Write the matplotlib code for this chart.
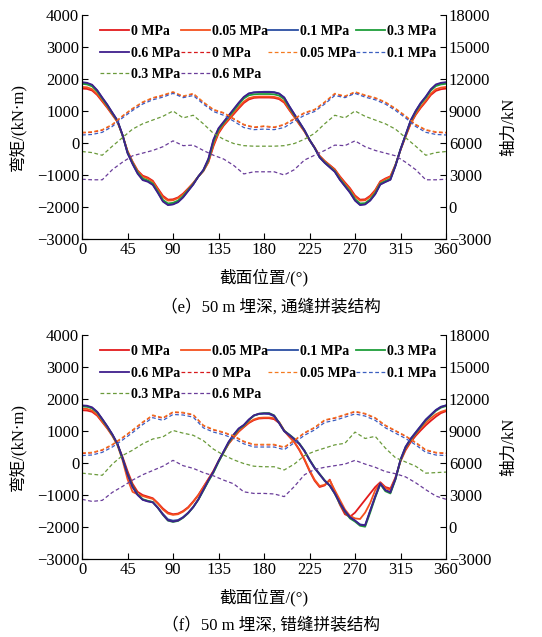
import numpy as np
import matplotlib
matplotlib.use('Agg')
import matplotlib.pyplot as plt

plt.rcParams['font.family'] = ['Liberation Serif', 'Noto Sans CJK SC']
plt.rcParams['axes.unicode_minus'] = True

# section angle, deg (moments every 5 deg, axial forces every 10 deg)
theta_m = np.arange(0, 361, 5)
theta_n = np.arange(0, 361, 10)

labels = ['0 MPa', '0.05 MPa', '0.1 MPa', '0.3 MPa', '0.6 MPa']

# ---- (e) moments, kN*m
e_m_0 = [1700, 1690, 1640, 1500, 1300, 1100, 880, 660, 250, -250, -580, -860, -1020, -1080, -1180, -1420, -1650, -1770, -1760, -1700, -1580, -1420, -1250, -1050, -880, -600, -100, 300, 540, 720, 900, 1080, 1250, 1360, 1410, 1420, 1420,
         1420, 1410, 1370, 1260, 1030, 810, 580, 360, 90, -140, -400, -560, -690, -820, -1040, -1230, -1410, -1640, -1770, -1760, -1650, -1470, -1200, -1110, -1040, -680, -220, 200, 600, 880, 1100, 1290, 1500, 1630, 1680, 1700]
e_m_005 = [1750, 1740, 1680, 1530, 1330, 1120, 900, 670, 250, -260, -600, -880, -1050, -1110, -1210, -1450, -1690, -1800, -1790, -1720, -1600, -1440, -1260, -1050, -870, -580, -50, 330, 570, 750, 940, 1120, 1290, 1400, 1440, 1450, 1450,
           1450, 1440, 1400, 1290, 1050, 830, 600, 370, 90, -140, -410, -570, -700, -840, -1060, -1260, -1440, -1670, -1800, -1790, -1680, -1490, -1220, -1130, -1060, -690, -210, 210, 620, 900, 1130, 1320, 1540, 1680, 1730, 1750]
e_m_01 = [1880, 1860, 1800, 1640, 1410, 1190, 940, 700, 250, -300, -640, -940, -1140, -1190, -1290, -1540, -1810, -1930, -1910, -1840, -1690, -1490, -1290, -1050, -850, -510, 80, 440, 640, 840, 1040, 1240, 1420, 1540, 1580, 1590, 1600,
          1600, 1590, 1545, 1420, 1150, 900, 650, 400, 100, -150, -450, -615, -755, -895, -1140, -1340, -1540, -1790, -1930, -1910, -1790, -1590, -1290, -1210, -1140, -710, -200, 250, 700, 1000, 1250, 1440, 1670, 1810, 1860, 1880]
e_m_03 = [1850, 1830, 1770, 1610, 1390, 1170, 930, 690, 250, -290, -630, -920, -1110, -1170, -1270, -1520, -1780, -1890, -1870, -1800, -1660, -1470, -1280, -1050, -860, -540, 40, 410, 620, 820, 1010, 1210, 1390, 1490, 1520, 1530, 1530,
          1530, 1520, 1480, 1370, 1110, 870, 630, 390, 100, -150, -440, -600, -740, -880, -1120, -1320, -1510, -1750, -1890, -1880, -1760, -1560, -1270, -1190, -1120, -700, -200, 240, 680, 970, 1220, 1410, 1640, 1780, 1830, 1850]
e_m_06 = [1900, 1880, 1820, 1650, 1420, 1200, 950, 710, 260, -320, -660, -960, -1160, -1210, -1310, -1560, -1830, -1940, -1920, -1850, -1700, -1500, -1300, -1050, -840, -490, 110, 460, 660, 860, 1060, 1260, 1440, 1550, 1580, 1590, 1590,
          1590, 1580, 1540, 1420, 1150, 900, 650, 400, 100, -150, -450, -620, -760, -900, -1150, -1350, -1550, -1800, -1940, -1920, -1800, -1600, -1300, -1220, -1150, -720, -200, 250, 700, 1000, 1250, 1450, 1680, 1830, 1880, 1900]

# ---- (e) axial forces, kN
e_n_0 = [6950, 7000, 7200, 7700, 8500, 9200, 9800, 10200, 10450, 10750, 10350, 10600, 9800, 9100, 8800, 8250, 7700, 7450, 7550,
         7450, 7700, 8250, 8800, 9100, 9800, 10600, 10350, 10750, 10450, 10200, 9800, 9200, 8500, 7700, 7200, 7000, 6950]
e_n_005 = [7000, 7050, 7250, 7750, 8550, 9250, 9850, 10250, 10500, 10800, 10400, 10650, 9850, 9150, 8850, 8300, 7750, 7500, 7600,
           7500, 7750, 8300, 8850, 9150, 9850, 10650, 10400, 10800, 10500, 10250, 9850, 9250, 8550, 7750, 7250, 7050, 7000]
e_n_01 = [6750, 6800, 7000, 7550, 8350, 9050, 9650, 10050, 10300, 10650, 10250, 10450, 9650, 8950, 8600, 8050, 7450, 7250, 7300,
          7250, 7450, 8050, 8600, 8950, 9650, 10450, 10250, 10650, 10300, 10050, 9650, 9050, 8350, 7550, 7000, 6800, 6750]
e_n_03 = [5200, 5100, 4850, 5700, 6500, 7300, 7800, 8150, 8500, 9000, 8350, 8600, 7800, 6900, 6350, 5950, 5750, 5700, 5700,
          5700, 5750, 5950, 6350, 6900, 7800, 8600, 8350, 9000, 8500, 8150, 7800, 7300, 6500, 5700, 4850, 5100, 5200]
e_n_06 = [2600, 2550, 2550, 3500, 4200, 4800, 5050, 5300, 5650, 6200, 5750, 5800, 5300, 4850, 4500, 3900, 3100, 3300, 3300,
          3300, 3000, 3500, 4400, 4850, 5300, 5800, 5750, 6200, 5650, 5300, 5050, 4800, 4200, 3500, 2550, 2550, 2600]

# ---- (f) moments, kN*m
f_m_0 = [1650, 1640, 1600, 1480, 1280, 1080, 850, 580, 200, -250, -650, -900, -1000, -1050, -1100, -1250, -1420, -1550, -1600, -1580, -1500, -1380, -1200, -1000, -750, -500, -250, 50, 330, 600, 800, 980, 1120, 1250, 1340, 1390, 1400,
         1400, 1370, 1250, 1000, 820, 650, 400, 100, -250, -550, -750, -700, -520, -900, -1300, -1600, -1680, -1550, -1350, -1150, -950, -750, -600, -750, -800, -450, 50, 400, 650, 850, 1020, 1180, 1320, 1450, 1560, 1620]
f_m_005 = [1700, 1690, 1640, 1510, 1300, 1100, 860, 560, 100, -500, -900, -980, -1030, -1080, -1120, -1270, -1450, -1580, -1620, -1600, -1520, -1400, -1220, -1010, -760, -510, -250, 60, 340, 610, 810, 990, 1140, 1270, 1360, 1410, 1420,
           1420, 1400, 1280, 1020, 840, 660, 420, 120, -220, -520, -720, -680, -540, -850, -1150, -1450, -1650, -1730, -1750, -1550, -1250, -850, -620, -780, -850, -480, 80, 450, 700, 900, 1080, 1250, 1400, 1520, 1600, 1650]
f_m_01 = [1780, 1770, 1720, 1590, 1370, 1140, 890, 600, 150, -340, -740, -990, -1140, -1190, -1220, -1390, -1590, -1760, -1800, -1780, -1690, -1550, -1370, -1140, -850, -550, -280, 50, 350, 650, 880, 1070, 1180, 1350, 1480, 1530, 1540,
          1530, 1460, 1240, 990, 870, 740, 590, 370, 90, -160, -360, -560, -710, -950, -1250, -1500, -1690, -1800, -1920, -1940, -1480, -1040, -640, -850, -910, -490, 110, 510, 760, 960, 1160, 1360, 1510, 1660, 1760, 1800]
f_m_03 = [1770, 1760, 1710, 1580, 1360, 1130, 880, 590, 150, -330, -720, -980, -1130, -1180, -1220, -1400, -1620, -1800, -1840, -1810, -1710, -1570, -1380, -1150, -860, -570, -300, 30, 330, 630, 860, 1060, 1170, 1340, 1480, 1540, 1560,
          1560, 1490, 1260, 1010, 890, 760, 610, 390, 110, -140, -340, -540, -700, -960, -1270, -1520, -1730, -1830, -1960, -1990, -1550, -1080, -660, -880, -950, -520, 80, 480, 730, 930, 1130, 1330, 1480, 1630, 1730, 1780]
f_m_06 = [1800, 1790, 1740, 1600, 1380, 1150, 900, 610, 160, -350, -750, -1000, -1150, -1200, -1230, -1400, -1610, -1790, -1830, -1800, -1700, -1560, -1380, -1140, -840, -540, -270, 60, 360, 660, 890, 1080, 1190, 1360, 1490, 1540, 1550,
          1550, 1480, 1250, 1000, 880, 750, 600, 380, 100, -150, -350, -550, -700, -950, -1250, -1500, -1700, -1800, -1930, -1950, -1500, -1050, -640, -850, -920, -500, 100, 500, 750, 950, 1150, 1350, 1500, 1650, 1750, 1800]

# ---- (f) axial forces, kN
f_n_0 = [6900, 6950, 7200, 7700, 8350, 9050, 9800, 10450, 10200, 10750, 10700, 10500, 9500, 9100, 8850, 8500, 8000, 7700, 7700,
         7700, 7450, 8100, 8800, 9300, 10000, 10200, 10500, 10800, 10600, 10200, 9500, 9000, 8500, 7900, 7200, 6950, 6900]
f_n_005 = [6950, 7000, 7250, 7750, 8400, 9100, 9850, 10500, 10250, 10800, 10750, 10550, 9550, 9150, 8900, 8550, 8050, 7750, 7750,
           7750, 7500, 8150, 8850, 9350, 10050, 10250, 10550, 10850, 10650, 10250, 9550, 9050, 8550, 7950, 7250, 7000, 6950]
f_n_01 = [6700, 6750, 7000, 7500, 8150, 8850, 9600, 10250, 10000, 10550, 10500, 10300, 9300, 8900, 8650, 8300, 7800, 7500, 7500,
          7500, 7250, 7900, 8600, 9100, 9800, 10000, 10300, 10600, 10400, 10000, 9300, 8800, 8300, 7700, 7000, 6750, 6700]
f_n_03 = [5050, 4950, 4850, 5900, 6700, 7200, 7800, 8250, 8450, 9050, 8800, 8600, 8100, 7300, 6750, 6300, 5950, 5700, 5650,
          5650, 5350, 5900, 6700, 7100, 7400, 7700, 7850, 8900, 8300, 8500, 7400, 6500, 6100, 5700, 5050, 5100, 5150]
f_n_06 = [2600, 2400, 2500, 3250, 3800, 4400, 4900, 5300, 5700, 6250, 5750, 5500, 5100, 4800, 4400, 4050, 3300, 3150, 3150,
          3100, 2850, 3800, 4900, 5400, 5600, 5750, 5900, 6250, 5900, 5600, 5200, 5000, 4700, 4150, 3500, 2900, 2600]

m_colors = ['#e31a1c', '#f4511e', '#2b4ea2', '#1f9e3a', '#3f1f8c']
n_colors = ['#d7191c', '#f47a20', '#3b5fc0', '#6a9a3a', '#6a3d9a']

fig = plt.figure(figsize=(5.42, 6.37), dpi=100)


def panel(rect, m_list, n_list, caption, cap_y):
    ax = fig.add_axes(rect)
    ax2 = ax.twinx()
    for vals, c, lab in zip(m_list, m_colors, labels):
        ax.plot(theta_m, vals, color=c, lw=1.3, label=lab)
    for vals, c, lab in zip(n_list, n_colors, labels):
        ax2.plot(theta_n, vals, color=c, lw=0.9, ls=(0, (3, 2)), label=lab)

    ax.set_xlim(0, 360)
    ax.set_ylim(-3000, 4000)
    ax2.set_ylim(-3000, 18000)
    ax.set_xticks(np.arange(0, 361, 45))
    ax.set_yticks(np.arange(-3000, 4001, 1000))
    ax2.set_yticks(np.arange(-3000, 18001, 3000))
    for a in (ax, ax2):
        a.tick_params(direction='in', length=4, width=0.8, labelsize=12, pad=2)
        a.spines['top'].set_visible(False)
    ax.spines['right'].set_visible(False)

    ax.set_xlabel('截面位置/(°)', fontsize=12)
    ax.xaxis.set_label_coords(0.5, -0.13)
    ax.set_ylabel('弯矩/(kN·m)', fontsize=12)
    ax.yaxis.set_label_coords(-0.15, 0.5)
    ax2.set_ylabel('轴力/kN', fontsize=12)
    ax2.yaxis.set_label_coords(1.15, 0.5)

    h = ax.get_lines() + ax2.get_lines()
    names = labels + labels
    order = [0, 4, 8, 1, 5, 9, 2, 6, 3, 7]
    ax2.legend([h[i] for i in order], [names[i] for i in order], ncol=4,
               loc='upper left', bbox_to_anchor=(0.049, 0.955), frameon=False,
               prop={'weight': 'bold', 'size': 10}, handlelength=2.12,
               handletextpad=0.15, columnspacing=0.0, labelspacing=0.62,
               borderaxespad=0, borderpad=0)

    fig.text(0.5, cap_y, caption, ha='center', va='center', fontsize=12)


panel([0.1513, 0.6248, 0.6716, 0.3517],
      [e_m_0, e_m_005, e_m_01, e_m_03, e_m_06],
      [e_n_0, e_n_005, e_n_01, e_n_03, e_n_06],
      '（e）50 m 埋深, 通缝拼装结构', 0.518)
panel([0.1513, 0.1224, 0.6716, 0.3517],
      [f_m_0, f_m_005, f_m_01, f_m_03, f_m_06],
      [f_n_0, f_n_005, f_n_01, f_n_03, f_n_06],
      '（f）50 m 埋深, 错缝拼装结构', 0.019)

fig.savefig('out.png', dpi=100)
